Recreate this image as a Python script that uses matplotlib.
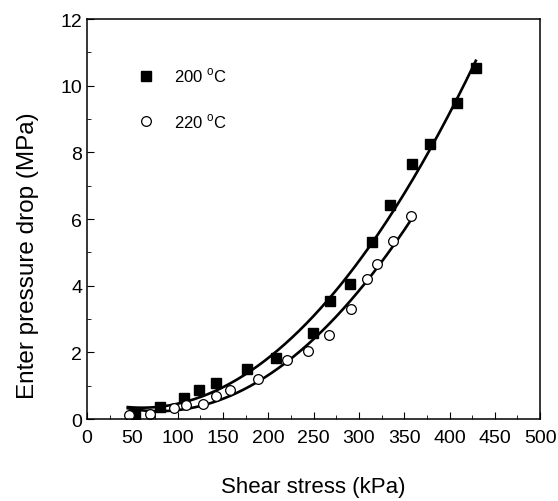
import numpy as np
import matplotlib.pyplot as plt
from matplotlib.ticker import MultipleLocator

plt.rcParams['font.family'] = ['Liberation Sans', 'DejaVu Sans']
plt.rcParams['mathtext.fontset'] = 'custom'
plt.rcParams['mathtext.rm'] = 'Liberation Sans'

# Data
shear_200 = [53, 81, 107, 123, 142, 177, 208, 249, 268, 290, 314, 334, 359, 379, 408, 429]
drop_200 = [0.12, 0.38, 0.63, 0.88, 1.07, 1.50, 1.83, 2.58, 3.53, 4.05, 5.30, 6.43, 7.65, 8.25, 9.48, 10.52]

shear_220 = [46, 70, 96, 109, 128, 142, 158, 189, 221, 244, 267, 291, 309, 320, 338, 358]
drop_220 = [0.12, 0.17, 0.33, 0.43, 0.47, 0.69, 0.88, 1.19, 1.76, 2.05, 2.52, 3.30, 4.21, 4.65, 5.35, 6.08]

labels = ["200 $^{\\rm o}$C", "220 $^{\\rm o}$C"]

# quadratic fits through the points
fit_200 = np.polyfit(shear_200, drop_200, 2)
fit_220 = np.polyfit(shear_220, drop_220, 2)
xs_200 = np.linspace(45, 429, 200)
xs_220 = np.linspace(45, 358, 200)

fig = plt.figure(figsize=(5.58, 5.02), dpi=100)
ax = fig.add_axes([0.156, 0.163, 0.812, 0.797])

ax.plot(xs_200, np.polyval(fit_200, xs_200), color='black', lw=1.9)
ax.plot(xs_220, np.polyval(fit_220, xs_220), color='black', lw=1.9)
ax.plot(shear_200, drop_200, 's', color='black', ms=6.5, label=labels[0])
ax.plot(shear_220, drop_220, 'o', mfc='white', mec='black', mew=0.9, ms=7, label=labels[1])

ax.set_xlim(0, 500)
ax.set_ylim(0, 12)
ax.xaxis.set_major_locator(MultipleLocator(50))
ax.xaxis.set_minor_locator(MultipleLocator(25))
ax.yaxis.set_major_locator(MultipleLocator(2))
ax.yaxis.set_minor_locator(MultipleLocator(1))
ax.tick_params(which='both', direction='in', labelsize=14)
ax.tick_params(which='major', length=5)
ax.tick_params(which='minor', length=3)
ax.tick_params(axis='x', pad=7)
for s in ax.spines.values():
    s.set_linewidth(1.1)

ax.set_xlabel("Shear stress (kPa)", fontsize=16, labelpad=22)
ax.set_ylabel("Enter pressure drop (MPa)", fontsize=17.5)
ax.yaxis.set_label_coords(-0.106, 0.41)

ax.legend(loc='upper left', bbox_to_anchor=(0.06, 0.92), frameon=False,
          fontsize=12, handletextpad=0.7, labelspacing=1.6)

fig.savefig("out.png", dpi=100)
